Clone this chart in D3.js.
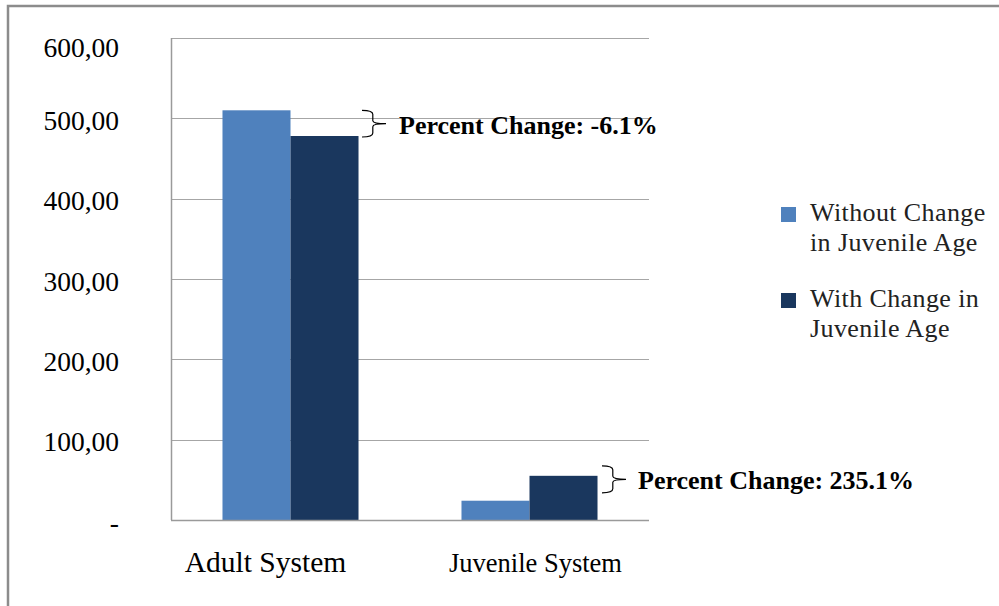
<!DOCTYPE html>
<html>
<head>
<meta charset="utf-8">
<script src="https://cdn.jsdelivr.net/npm/d3@7"></script>
<style>
  body { margin: 0; background: #fff; }
  svg { display: block; font-family: "Liberation Serif", "Times New Roman", serif; }
</style>
</head>
<body>
<svg id="chart" width="999" height="606"></svg>
<script>
// chart data
var categories = ["Adult System", "Juvenile System"];
var seriesNames = ["Without Change in Juvenile Age", "With Change in Juvenile Age"];
var withoutChange = [510, 24];
var withChange = [478, 55];
var yTicks = [0, 100, 200, 300, 400, 500, 600];
var yTickLabels = ["-", "100,00", "200,00", "300,00", "400,00", "500,00", "600,00"];
var changeLabels = ["Percent Change: -6.1%", "Percent Change: 235.1%"];
var legendLines = [["Without Change", "in Juvenile Age"], ["With Change in", "Juvenile Age"]];

var colors = ["#4f81bd", "#1a375e"];

var svg = d3.select("#chart");

// outer frame (only top and left edges show)
svg.append("rect")
  .attr("x", 8).attr("y", 6)
  .attr("width", 1100).attr("height", 700)
  .attr("fill", "none")
  .attr("stroke", "#8c8c8c")
  .attr("stroke-width", 2.5);

var plot = {left: 171, right: 649, top: 38, bottom: 520};

var y = d3.scaleLinear()
  .domain([0, 600])
  .range([plot.bottom, plot.top]);

var x0 = d3.scaleBand()
  .domain(categories)
  .range([plot.left, plot.right]);

var x1 = d3.scaleBand()
  .domain(seriesNames)
  .range([0, x0.bandwidth()])
  .paddingOuter(0.757);

// gridlines
svg.append("g")
  .selectAll("line")
  .data(yTicks.filter(d => d > 0))
  .enter()
  .append("line")
  .attr("x1", plot.left).attr("x2", plot.right)
  .attr("y1", d => Math.round(y(d)) + 0.5)
  .attr("y2", d => Math.round(y(d)) + 0.5)
  .attr("stroke", "#a6a6a6")
  .attr("stroke-width", 1.2);

// y tick labels
svg.append("g")
  .selectAll("text")
  .data(yTicks)
  .enter()
  .append("text")
  .attr("x", 119)
  .attr("y", (d, i) => y(d) + (d === 600 ? 9 : 2))
  .attr("dy", "0.35em")
  .attr("text-anchor", "end")
  .attr("font-size", 27.5)
  .attr("fill", "#000")
  .text((d, i) => yTickLabels[i]);

// bars
var rows = categories.map((c, i) => ({cat: c, values: [withoutChange[i], withChange[i]]}));

var groups = svg.append("g")
  .selectAll("g")
  .data(rows)
  .enter()
  .append("g")
  .attr("transform", d => "translate(" + x0(d.cat) + ",0)");

groups.selectAll("rect")
  .data(d => d.values.map((v, j) => ({name: seriesNames[j], value: v, j: j})))
  .enter()
  .append("rect")
  .attr("x", d => x1(d.name))
  .attr("width", x1.bandwidth())
  .attr("y", d => y(d.value))
  .attr("height", d => y(0) - y(d.value))
  .attr("fill", d => colors[d.j]);

// axes lines
svg.append("line")
  .attr("x1", plot.left + 0.5).attr("x2", plot.left + 0.5)
  .attr("y1", plot.top).attr("y2", plot.bottom)
  .attr("stroke", "#9a9a9a").attr("stroke-width", 1.5);
svg.append("line")
  .attr("x1", plot.left).attr("x2", plot.right)
  .attr("y1", plot.bottom + 0.5).attr("y2", plot.bottom + 0.5)
  .attr("stroke", "#9a9a9a").attr("stroke-width", 1.5);

// category labels
var labelShift = {"Adult System": -25, "Juvenile System": 6};
var labelSize = {"Adult System": 29.5, "Juvenile System": 26.5};
svg.append("g")
  .selectAll("text")
  .data(categories)
  .enter()
  .append("text")
  .attr("x", d => x0(d) + x0.bandwidth() / 2 + labelShift[d])
  .attr("y", 572)
  .attr("text-anchor", "middle")
  .attr("font-size", d => labelSize[d])
  .text(d => d);

// curly bracket path, opening to the left, tip pointing right
function brace(x, top, bottom, w) {
  var mid = (top + bottom) / 2;
  var c = x + w * 0.45;
  return "M" + x + "," + top +
    " Q" + c + "," + top + " " + c + "," + (top + 4) +
    " L" + c + "," + (mid - 3) +
    " Q" + c + "," + mid + " " + (x + w) + "," + mid +
    " Q" + c + "," + mid + " " + c + "," + (mid + 3) +
    " L" + c + "," + (bottom - 4) +
    " Q" + c + "," + bottom + " " + x + "," + bottom;
}

var notes = [
  {x: 362, top: y(withoutChange[0]), bottom: y(withChange[0]) + 1, tx: 399},
  {x: 602, top: y(withChange[1]) - 10, bottom: y(withChange[1]) + 17, tx: 638}
];

notes.forEach((n, i) => {
  svg.append("path")
    .attr("d", brace(n.x, n.top, n.bottom, 24))
    .attr("fill", "none")
    .attr("stroke", "#000")
    .attr("stroke-width", 1.2);
  svg.append("text")
    .attr("x", n.tx)
    .attr("y", (n.top + n.bottom) / 2)
    .attr("dy", "0.38em")
    .attr("font-size", 26)
    .attr("font-weight", "bold")
    .text(changeLabels[i]);
});

// legend
var legend = svg.append("g")
  .selectAll("g")
  .data(seriesNames)
  .enter()
  .append("g")
  .attr("transform", (d, i) => "translate(781," + (207 + i * 86) + ")");

legend.append("rect")
  .attr("width", 15).attr("height", 15)
  .attr("fill", (d, i) => colors[i]);

legend.each(function(d, i) {
  var t = d3.select(this).append("text")
    .attr("font-size", 26)
    .attr("letter-spacing", 0.4)
    .attr("fill", "#222");
  legendLines[i].forEach((line, k) => {
    t.append("tspan")
      .attr("x", 29)
      .attr("y", 14 + k * 30)
      .text(line);
  });
});
</script>
</body>
</html>
